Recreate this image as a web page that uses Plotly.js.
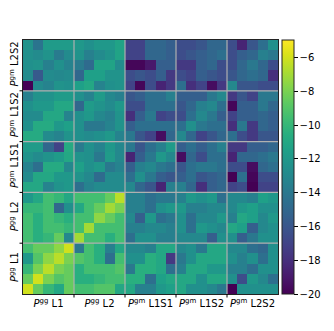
<!DOCTYPE html>
<html>
<head>
<meta charset="utf-8">
<script src="https://cdn.plot.ly/plotly-3.0.1.min.js"></script>
<style>
  html, body { margin: 0; padding: 0; background: #fff; }
  #chart { width: 334px; height: 331px; }
</style>
</head>
<body>
<div id="chart"></div>
<script>
// block labels, left to right / bottom to top
var blockLabels = [
  "<i>P</i><sup>gg</sup> L1",
  "<i>P</i><sup>gg</sup> L2",
  "<i>P</i><sup>gm</sup> L1S1",
  "<i>P</i><sup>gm</sup> L1S2",
  "<i>P</i><sup>gm</sup> L2S2"
];

// rows written top to bottom as they appear in the picture
var rowsL2S2 = [
  [-12.3, -14.2, -11.8, -11.8, -11.8, -12.0, -12.5, -12.0, -12.0, -11.3, -17.0, -17.0, -15.0, -15.0, -15.5, -16.5, -16.5, -16.0, -15.0, -15.0, -16.5, -18.5, -16.0, -14.5, -12.5],
  [-12.5, -12.8, -12.3, -13.8, -12.8, -12.3, -13.5, -12.8, -12.3, -11.3, -17.0, -17.0, -15.0, -15.0, -15.5, -16.5, -16.0, -15.5, -15.0, -14.5, -16.5, -15.5, -15.0, -13.5, -14.0],
  [-12.5, -12.3, -13.5, -12.5, -13.3, -13.8, -14.8, -11.3, -11.3, -12.8, -19.8, -19.8, -19.0, -15.5, -15.5, -17.5, -17.5, -15.5, -15.0, -16.5, -16.5, -15.0, -14.0, -15.0, -16.5],
  [-12.8, -15.8, -12.8, -13.0, -12.8, -15.0, -11.5, -11.5, -12.3, -12.3, -16.5, -16.0, -16.5, -15.5, -17.5, -16.5, -17.0, -15.5, -16.0, -16.5, -16.0, -15.0, -14.5, -15.0, -18.0],
  [-20.0, -12.8, -13.3, -12.3, -12.5, -11.5, -11.0, -13.3, -12.5, -12.3, -17.0, -19.8, -16.5, -18.5, -17.5, -14.5, -18.0, -17.0, -19.5, -17.5, -13.0, -16.0, -16.0, -16.5, -16.5]
];
var rowsL1S2 = [
  [-13.5, -12.3, -12.3, -11.8, -11.8, -12.5, -13.3, -11.8, -13.0, -13.5, -16.0, -15.5, -14.5, -14.5, -13.5, -15.5, -15.5, -15.5, -14.0, -13.0, -17.5, -16.0, -17.0, -14.0, -14.0],
  [-12.5, -12.0, -12.0, -11.0, -11.0, -15.0, -11.8, -12.3, -12.8, -12.0, -16.5, -16.5, -14.5, -14.5, -14.5, -16.0, -15.0, -13.5, -13.0, -14.5, -19.8, -15.5, -15.5, -14.0, -15.0],
  [-12.8, -12.8, -11.0, -11.0, -13.3, -12.5, -12.0, -13.0, -13.5, -12.3, -18.0, -15.5, -14.0, -17.0, -16.5, -16.5, -14.5, -13.0, -14.0, -15.5, -17.0, -15.5, -15.5, -15.0, -15.5],
  [-12.5, -10.8, -10.8, -12.0, -11.5, -12.5, -14.0, -14.0, -13.3, -12.3, -15.5, -14.5, -14.5, -14.5, -14.5, -14.5, -12.5, -14.0, -14.5, -14.5, -18.0, -14.0, -17.5, -15.0, -15.5],
  [-10.8, -10.8, -12.8, -13.3, -12.3, -12.5, -12.8, -12.5, -12.0, -13.3, -14.0, -16.0, -17.0, -19.5, -15.0, -13.0, -15.0, -17.0, -16.0, -15.0, -14.5, -16.5, -17.5, -16.0, -16.0]
];
var rowsL1S1 = [
  [-11.8, -11.8, -15.0, -17.0, -10.8, -13.8, -12.5, -13.3, -12.0, -13.0, -14.0, -16.0, -14.5, -13.5, -11.8, -15.5, -14.5, -15.5, -14.5, -13.5, -17.5, -17.5, -15.5, -15.5, -15.0],
  [-12.3, -12.8, -12.3, -11.8, -11.0, -12.3, -12.5, -14.0, -11.8, -13.0, -18.5, -15.5, -14.0, -12.0, -13.0, -19.5, -15.0, -16.5, -14.5, -14.5, -18.5, -15.0, -15.0, -14.5, -14.0],
  [-13.3, -14.5, -10.8, -10.8, -13.0, -11.5, -12.5, -12.0, -14.0, -13.3, -15.5, -13.5, -13.0, -14.0, -14.5, -16.0, -14.5, -14.0, -14.0, -14.5, -16.5, -16.5, -19.5, -15.0, -14.5],
  [-12.8, -11.0, -11.0, -12.0, -12.0, -12.3, -13.0, -14.8, -12.8, -12.8, -14.5, -12.5, -14.0, -15.5, -16.0, -15.5, -14.5, -16.0, -15.5, -15.0, -20.0, -14.5, -19.8, -16.5, -16.5],
  [-11.0, -11.0, -13.3, -12.3, -12.0, -14.5, -13.3, -12.8, -12.8, -12.8, -13.0, -15.0, -16.0, -18.5, -13.5, -13.5, -15.0, -18.0, -15.5, -15.0, -17.0, -16.5, -20.0, -17.0, -17.0]
];
var rowsL2 = [
  [-12.0, -11.0, -9.5, -10.0, -11.0, -9.5, -9.5, -9.5, -8.5, -6.5, -13.5, -13.5, -14.5, -14.0, -14.0, -13.5, -12.0, -12.5, -12.0, -14.5, -13.0, -13.0, -13.5, -11.5, -12.0],
  [-10.0, -10.0, -9.5, -15.0, -12.5, -11.0, -9.5, -8.5, -7.0, -8.0, -13.5, -13.5, -14.5, -12.5, -12.0, -12.0, -13.5, -13.5, -13.0, -13.0, -13.0, -12.0, -11.5, -12.5, -12.5],
  [-9.5, -10.5, -9.5, -10.0, -10.5, -9.5, -9.5, -7.5, -8.5, -9.5, -13.0, -15.5, -12.0, -14.5, -14.0, -12.5, -14.5, -13.0, -13.0, -12.0, -13.5, -11.0, -11.5, -13.0, -12.0],
  [-9.5, -10.5, -9.5, -9.5, -10.0, -9.5, -7.0, -9.5, -9.5, -9.5, -13.5, -13.5, -13.0, -13.0, -13.5, -12.5, -14.5, -12.0, -12.5, -13.0, -11.0, -11.5, -15.5, -13.0, -12.5],
  [-9.5, -10.5, -10.0, -8.5, -13.0, -7.0, -9.5, -9.5, -10.5, -9.5, -14.5, -12.5, -12.5, -13.5, -13.5, -13.0, -13.0, -13.0, -15.5, -12.5, -12.5, -15.5, -14.0, -12.5, -12.5]
];
var rowsL1 = [
  [-9.5, -8.5, -8.5, -7.5, -6.0, -14.0, -9.5, -10.5, -13.5, -11.0, -13.0, -13.0, -13.5, -11.0, -11.0, -13.0, -12.5, -14.0, -11.0, -11.0, -13.0, -13.0, -14.5, -15.0, -12.5],
  [-12.0, -9.0, -7.5, -6.5, -8.0, -9.0, -9.5, -10.5, -14.5, -9.5, -12.5, -12.5, -10.5, -11.0, -17.5, -14.0, -12.5, -11.0, -11.0, -11.0, -12.5, -13.5, -12.5, -14.5, -12.5],
  [-10.0, -8.0, -6.5, -8.0, -8.5, -10.5, -9.5, -9.5, -9.5, -9.0, -14.0, -10.5, -10.5, -11.0, -14.5, -13.5, -11.0, -11.0, -12.0, -12.0, -13.5, -13.5, -14.5, -12.5, -12.5],
  [-8.5, -6.0, -8.0, -9.0, -8.5, -10.5, -10.5, -10.0, -9.5, -9.5, -10.5, -10.5, -14.5, -11.5, -11.0, -11.0, -11.0, -12.5, -11.0, -11.0, -12.5, -16.5, -12.0, -13.0, -14.5],
  [-6.0, -8.5, -10.0, -11.0, -8.5, -9.5, -9.5, -9.0, -9.0, -11.0, -11.0, -13.5, -13.5, -12.0, -11.5, -11.0, -12.5, -12.5, -13.0, -14.0, -20.0, -12.5, -12.5, -12.5, -12.5]
];
var colorTicks = [-6, -8, -10, -12, -14, -16, -18, -20];

var z = rowsL2S2.concat(rowsL1S2, rowsL1S1, rowsL2, rowsL1);
var n = z[0].length;
var bs = 5;

var centers = blockLabels.map(function (_, i) { return i * bs + (bs - 1) / 2; });
// y axis is reversed, so top block comes first
var yLabels = blockLabels.slice().reverse();

// grey block separators plus small outside ticks on the boundaries
var shapes = [];
for (var k = 1; k < blockLabels.length; k++) {
  var p = k * bs - 0.5;
  shapes.push({ type: "line", xref: "x", yref: "paper", x0: p, x1: p, y0: 0, y1: 1,
    line: { color: "#b0b0b0", width: 1.2 } });
  shapes.push({ type: "line", xref: "paper", yref: "y", x0: 0, x1: 1, y0: p, y1: p,
    line: { color: "#b0b0b0", width: 1.2 } });
  shapes.push({ type: "line", xref: "x", yref: "paper", ysizemode: "pixel", yanchor: 0,
    x0: p, x1: p, y0: 0, y1: -3.5, line: { color: "#000", width: 1 } });
  shapes.push({ type: "line", yref: "y", xref: "paper", xsizemode: "pixel", xanchor: 0,
    y0: p, y1: p, x0: 0, x1: -3.5, line: { color: "#000", width: 1 } });
}

Plotly.newPlot("chart", [{
  type: "heatmap",
  z: z,
  colorscale: "Viridis",
  zmin: -20,
  zmax: -4.95,
  colorbar: {
    x: 1.016, xanchor: "left", xpad: 0,
    y: 0.5, yanchor: "middle", len: 1, ypad: 0,
    thickness: 12,
    outlinewidth: 1, outlinecolor: "#222",
    tickvals: colorTicks,
    ticks: "outside", ticklen: 3.5, tickcolor: "#000",
    tickfont: { family: "DejaVu Sans", size: 10, color: "#000" }
  }
}], {
  width: 334, height: 331,
  margin: { l: 23, r: 56, t: 40, b: 37 },
  paper_bgcolor: "#fff", plot_bgcolor: "#fff",
  font: { family: "DejaVu Sans", size: 10, color: "#000" },
  xaxis: {
    range: [-0.5, n - 0.5],
    tickvals: centers, ticktext: blockLabels,
    ticks: "", showgrid: false, zeroline: false,
    showline: true, linecolor: "#222", linewidth: 1, mirror: true,
    tickfont: { family: "DejaVu Sans", size: 10, color: "#000" }
  },
  yaxis: {
    range: [n - 0.5, -0.5],
    tickvals: centers, ticktext: yLabels,
    tickangle: -90,
    ticks: "", showgrid: false, zeroline: false,
    showline: true, linecolor: "#222", linewidth: 1, mirror: true,
    tickfont: { family: "DejaVu Sans", size: 10, color: "#000" }
  },
  shapes: shapes
}, { displayModeBar: false, staticPlot: true });
</script>
</body>
</html>
